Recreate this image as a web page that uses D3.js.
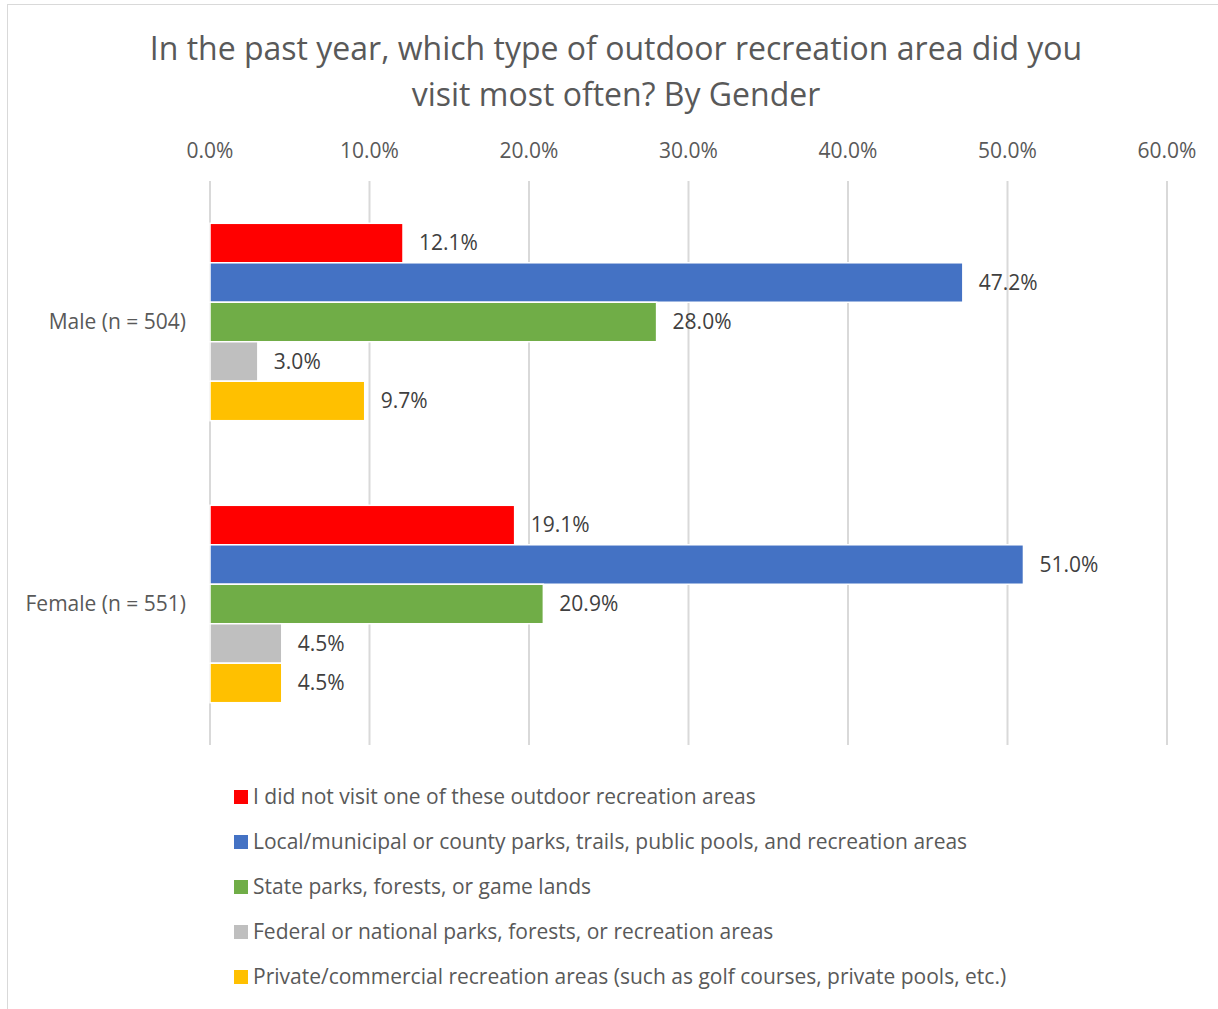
<!DOCTYPE html>
<html>
<head>
<meta charset="utf-8">
<title>Outdoor recreation by gender</title>
<script src="https://d3js.org/d3.v7.min.js"></script>
<style>
  body { margin: 0; background: #fff; }
  text { font-family: 'Open Sans', 'Noto Sans', sans-serif; }
  .tick-label { fill: #595959; font-size: 21px; }
  .cat-label { fill: #595959; font-size: 21px; }
  .val-label { fill: #404040; font-size: 21px; }
  .legend-label { fill: #595959; font-size: 21px; }
  .title { fill: #595959; font-size: 32px; }
</style>
</head>
<body>
<script>
// chart data
var groups = ["Male (n = 504)", "Female (n = 551)"];
var series = [
  "I did not visit one of these outdoor recreation areas",
  "Local/municipal or county parks, trails, public pools, and recreation areas",
  "State parks, forests, or game lands",
  "Federal or national parks, forests, or recreation areas",
  "Private/commercial recreation areas (such as golf courses, private pools, etc.)"
];
var maleValues = [12.1, 47.2, 28.0, 3.0, 9.7];
var femaleValues = [19.1, 51.0, 20.9, 4.5, 4.5];
var ticks = [0, 10, 20, 30, 40, 50, 60];
var colors = ["#FF0000", "#4472C4", "#70AD47", "#BFBFBF", "#FFC000"];

var W = 1218, H = 1009;
var plot = {left: 210, right: 1167, top: 181, bottom: 745};

var svg = d3.select("body").append("svg")
    .attr("width", W)
    .attr("height", H);

// chart border
svg.append("rect")
    .attr("x", 7.5).attr("y", 4.5)
    .attr("width", 1240).attr("height", 1040)
    .attr("fill", "#fff")
    .attr("stroke", "#d9d9d9");

// title
var title = svg.append("text")
    .attr("class", "title")
    .attr("text-anchor", "middle");
title.append("tspan").attr("x", 616).attr("y", 60)
    .text("In the past year, which type of outdoor recreation area did you");
title.append("tspan").attr("x", 616).attr("y", 106)
    .text("visit most often? By Gender");

var x = d3.scaleLinear().domain([0, 60]).range([plot.left, plot.right]);
var y0 = d3.scaleBand().domain(groups).range([plot.top, plot.bottom]).paddingInner(0.3).paddingOuter(0.15);
var y1 = d3.scaleBand().domain(d3.range(series.length)).range([0, y0.bandwidth()]);

// gridlines
svg.append("g").selectAll("line")
    .data(ticks)
    .enter().append("line")
    .attr("x1", function(d) { return x(d); })
    .attr("x2", function(d) { return x(d); })
    .attr("y1", plot.top)
    .attr("y2", plot.bottom)
    .attr("stroke", "#d9d9d9")
    .attr("stroke-width", 2);

// tick labels along the top
svg.append("g").selectAll("text")
    .data(ticks)
    .enter().append("text")
    .attr("class", "tick-label")
    .attr("x", function(d) { return x(d); })
    .attr("y", 158)
    .attr("text-anchor", "middle")
    .text(function(d) { return d.toFixed(1) + "%"; });

var rows = [maleValues, femaleValues];

var g = svg.append("g").selectAll("g")
    .data(groups)
    .enter().append("g")
    .attr("transform", function(d) { return "translate(0," + y0(d) + ")"; });

g.selectAll("rect")
    .data(function(d, i) { return rows[i]; })
    .enter().append("rect")
    .attr("x", x(0))
    .attr("y", function(d, i) { return y1(i); })
    .attr("width", function(d) { return x(d) - x(0); })
    .attr("height", y1.bandwidth())
    .attr("fill", function(d, i) { return colors[i]; })
    .attr("stroke", "#fff")
    .attr("stroke-width", 1.5);

g.selectAll("text.val-label")
    .data(function(d, i) { return rows[i]; })
    .enter().append("text")
    .attr("class", "val-label")
    .attr("x", function(d) { return x(d) + 16; })
    .attr("y", function(d, i) { return y1(i) + y1.bandwidth() / 2; })
    .attr("dy", "0.35em")
    .text(function(d) { return d.toFixed(1) + "%"; });

// category labels
svg.append("g").selectAll("text")
    .data(groups)
    .enter().append("text")
    .attr("class", "cat-label")
    .attr("x", 186)
    .attr("y", function(d) { return y0(d) + y0.bandwidth() / 2; })
    .attr("dy", "0.35em")
    .attr("text-anchor", "end")
    .text(function(d) { return d; });

// legend
var legend = svg.append("g").selectAll("g")
    .data(series)
    .enter().append("g")
    .attr("transform", function(d, i) { return "translate(234," + (797 + i * 45) + ")"; });

legend.append("rect")
    .attr("x", 0).attr("y", -7)
    .attr("width", 14).attr("height", 14)
    .attr("fill", function(d, i) { return colors[i]; });

legend.append("text")
    .attr("class", "legend-label")
    .attr("x", 19)
    .attr("dy", "0.35em")
    .text(function(d) { return d; });
</script>
</body>
</html>
